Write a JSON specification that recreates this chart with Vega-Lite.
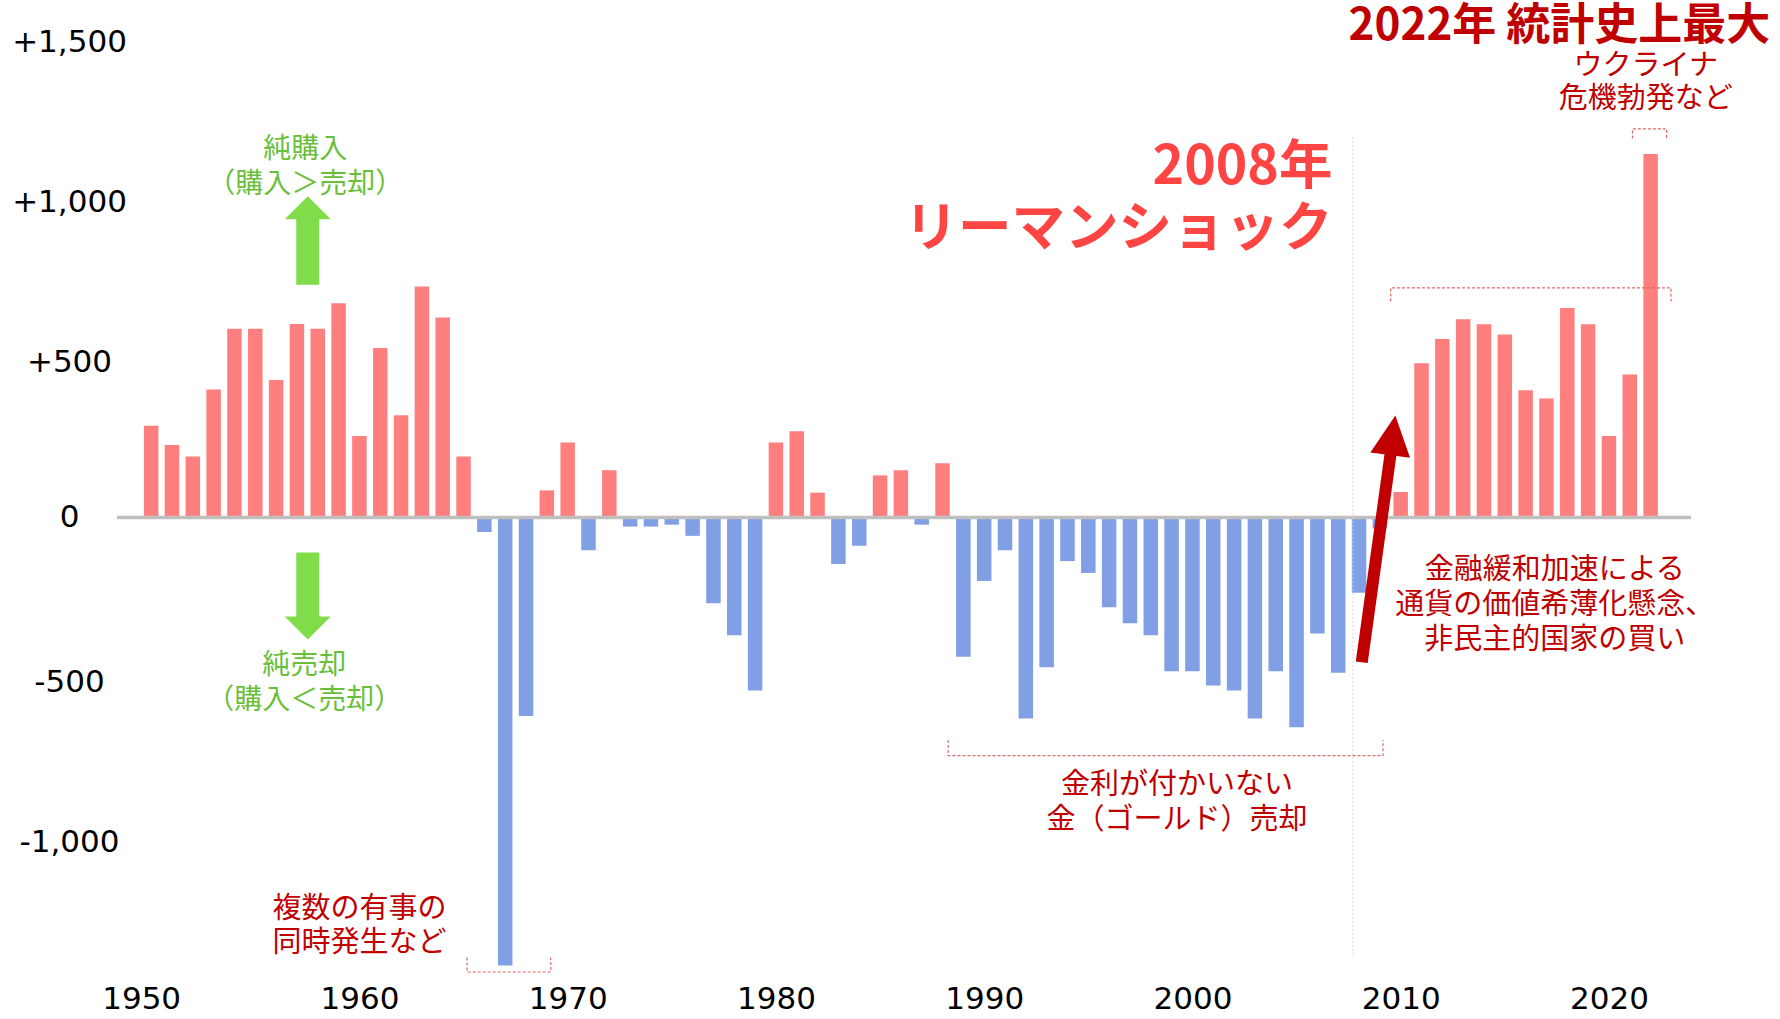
{
  "$schema": "https://vega.github.io/schema/vega-lite/v6.json",
  "autosize": "none",
  "width": 1574,
  "height": 955,
  "padding": {"left": 117, "top": 20, "right": 89, "bottom": 44},
  "background": "white",
  "config": {"view": {"stroke": null}},
  "datasets": {
    "gold": [
      {"year": 1950, "value": 287}, {"year": 1951, "value": 227}, {"year": 1952, "value": 191}, {"year": 1953, "value": 400},
      {"year": 1954, "value": 590}, {"year": 1955, "value": 590}, {"year": 1956, "value": 430}, {"year": 1957, "value": 605},
      {"year": 1958, "value": 590}, {"year": 1959, "value": 670}, {"year": 1960, "value": 255}, {"year": 1961, "value": 530},
      {"year": 1962, "value": 320}, {"year": 1963, "value": 722}, {"year": 1964, "value": 625}, {"year": 1965, "value": 191},
      {"year": 1966, "value": -45}, {"year": 1967, "value": -1400}, {"year": 1968, "value": -620}, {"year": 1969, "value": 85},
      {"year": 1970, "value": 235}, {"year": 1971, "value": -102}, {"year": 1972, "value": 148}, {"year": 1973, "value": -28},
      {"year": 1974, "value": -28}, {"year": 1975, "value": -22}, {"year": 1976, "value": -57}, {"year": 1977, "value": -268},
      {"year": 1978, "value": -368}, {"year": 1979, "value": -540}, {"year": 1980, "value": 235}, {"year": 1981, "value": 270},
      {"year": 1982, "value": 78}, {"year": 1983, "value": -145}, {"year": 1984, "value": -88}, {"year": 1985, "value": 132},
      {"year": 1986, "value": 148}, {"year": 1987, "value": -22}, {"year": 1988, "value": 170}, {"year": 1989, "value": -435},
      {"year": 1990, "value": -198}, {"year": 1991, "value": -102}, {"year": 1992, "value": -628}, {"year": 1993, "value": -468},
      {"year": 1994, "value": -136}, {"year": 1995, "value": -173}, {"year": 1996, "value": -280}, {"year": 1997, "value": -330},
      {"year": 1998, "value": -368}, {"year": 1999, "value": -480}, {"year": 2000, "value": -480}, {"year": 2001, "value": -525},
      {"year": 2002, "value": -540}, {"year": 2003, "value": -628}, {"year": 2004, "value": -480}, {"year": 2005, "value": -655},
      {"year": 2006, "value": -362}, {"year": 2007, "value": -485}, {"year": 2008, "value": -235}, {"year": 2009, "value": -34},
      {"year": 2010, "value": 80}, {"year": 2011, "value": 482}, {"year": 2012, "value": 558}, {"year": 2013, "value": 620},
      {"year": 2014, "value": 604}, {"year": 2015, "value": 572}, {"year": 2016, "value": 398}, {"year": 2017, "value": 372},
      {"year": 2018, "value": 655}, {"year": 2019, "value": 604}, {"year": 2020, "value": 255}, {"year": 2021, "value": 447},
      {"year": 2022, "value": 1136}
    ],
    "brackets": [
      {"b": "b1", "o": 1, "x": 1965.17, "y": -1375}, {"b": "b1", "o": 2, "x": 1965.17, "y": -1420},
      {"b": "b1", "o": 3, "x": 1969.19, "y": -1420}, {"b": "b1", "o": 4, "x": 1969.19, "y": -1375},
      {"b": "b2", "o": 1, "x": 1988.27, "y": -695}, {"b": "b2", "o": 2, "x": 1988.27, "y": -744},
      {"b": "b2", "o": 3, "x": 2009.15, "y": -744}, {"b": "b2", "o": 4, "x": 2009.15, "y": -695},
      {"b": "b3", "o": 1, "x": 2009.52, "y": 675}, {"b": "b3", "o": 2, "x": 2009.52, "y": 718},
      {"b": "b3", "o": 3, "x": 2022.98, "y": 718}, {"b": "b3", "o": 4, "x": 2022.98, "y": 675},
      {"b": "b4", "o": 1, "x": 2021.13, "y": 1185}, {"b": "b4", "o": 2, "x": 2021.13, "y": 1215},
      {"b": "b4", "o": 3, "x": 2022.77, "y": 1215}, {"b": "b4", "o": 4, "x": 2022.77, "y": 1185}
    ],
    "greenText": [
      {"x": 1957.4, "y": 1150, "t": "純購入"},
      {"x": 1957.4, "y": 1040, "t": "（購入＞売却）"},
      {"x": 1957.35, "y": -463, "t": "純売却"},
      {"x": 1957.35, "y": -573, "t": "（購入＜売却）"}
    ],
    "redText": [
      {"x": 1960.0, "y": -1224, "t": "複数の有事の"},
      {"x": 1960.0, "y": -1330, "t": "同時発生など"},
      {"x": 1999.26, "y": -836, "t": "金利が付かいない"},
      {"x": 1999.26, "y": -945, "t": "金（ゴールド）売却"},
      {"x": 2017.4, "y": -164, "t": "金融緩和加速による"},
      {"x": 2017.4, "y": -273, "t": "通貨の価値希薄化懸念、"},
      {"x": 2017.4, "y": -383, "t": "非民主的国家の買い"},
      {"x": 2021.77, "y": 1410, "t": "ウクライナ"},
      {"x": 2021.77, "y": 1307, "t": "危機勃発など"}
    ],
    "lehman": [
      {"x": 2006.72, "y": 1092, "t": "2008年"},
      {"x": 2006.72, "y": 898, "t": "リーマンショック"}
    ],
    "title": [
      {"x": 2027.75, "y": 1534, "t": "2022年 統計史上最大"}
    ]
  },
  "layer": [
    {
      "data": {"name": "gold"},
      "mark": {"type": "bar", "size": 14.5},
      "encoding": {
        "x": {
          "field": "year", "type": "quantitative",
          "scale": {"domain": [1948.6, 2023.7], "nice": false, "zero": false},
          "axis": {
            "values": [1950, 1960, 1970, 1980, 1990, 2000, 2010, 2020],
            "format": "d", "title": null, "domain": false, "ticks": false, "grid": false,
            "labelFont": "DejaVu Sans", "labelFontSize": 31, "labelColor": "#000000",
            "labelBaseline": "middle", "labelPadding": 24.5, "labelFlush": false, "labelOverlap": false,
            "labelOffset": {"condition": {"test": "datum.value == 1950", "value": -10}, "value": 0}
          }
        },
        "y": {
          "field": "value", "type": "quantitative",
          "scale": {"domain": [-1429.4, 1555], "nice": false, "zero": false},
          "axis": {
            "values": [-1000, -500, 0, 500, 1000, 1500],
            "title": null, "domain": false, "ticks": false, "tickSize": 0, "grid": false,
            "labelFont": "DejaVu Sans", "labelFontSize": 31, "labelColor": "#000000",
            "labelAlign": "center", "labelBaseline": "middle", "labelPadding": 48,
            "labelOffset": {"condition": {"test": "datum.value == 0", "value": 0}, "value": 5},
            "labelFlush": false, "labelOverlap": false,
            "labelExpr": "datum.value > 0 ? '+' + format(datum.value, ',') : (datum.value < 0 ? '-' + format(-datum.value, ',') : '0')"
          }
        },
        "color": {
          "condition": {"test": "datum.value >= 0", "value": "#ff7f7f"},
          "value": "#809fe4"
        }
      }
    },
    {
      "data": {"values": [{}]},
      "mark": {"type": "rule", "color": "#bfbfbf", "strokeWidth": 3.5},
      "encoding": {"y": {"datum": 0, "type": "quantitative"}}
    },
    {
      "data": {"values": [{}]},
      "mark": {"type": "rule", "color": "#d6d6d6", "strokeWidth": 1, "strokeDash": [2, 2]},
      "encoding": {
        "x": {"datum": 2007.71, "type": "quantitative"},
        "y": {"datum": 1190, "type": "quantitative"},
        "y2": {"datum": -1375}
      }
    },
    {
      "data": {"name": "brackets"},
      "mark": {"type": "line", "color": "#e06666", "strokeWidth": 1.2, "strokeDash": [3, 2]},
      "encoding": {
        "x": {"field": "x", "type": "quantitative"},
        "y": {"field": "y", "type": "quantitative"},
        "detail": {"field": "b"},
        "order": {"field": "o"}
      }
    },
    {
      "data": {"values": [{}]},
      "mark": {"type": "rule", "color": "#80dc48", "strokeWidth": 23, "strokeCap": "butt"},
      "encoding": {
        "x": {"datum": 1957.52, "type": "quantitative"},
        "y": {"datum": 728, "type": "quantitative"},
        "y2": {"datum": 936}
      }
    },
    {
      "data": {"values": [{}]},
      "mark": {"type": "point", "shape": "M-1,0.5L0,-0.5L1,0.5Z", "size": 2116, "filled": true, "color": "#80dc48", "opacity": 1, "strokeWidth": 0},
      "encoding": {
        "x": {"datum": 1957.52, "type": "quantitative"},
        "y": {"datum": 968, "type": "quantitative"}
      }
    },
    {
      "data": {"values": [{}]},
      "mark": {"type": "rule", "color": "#80dc48", "strokeWidth": 23, "strokeCap": "butt"},
      "encoding": {
        "x": {"datum": 1957.52, "type": "quantitative"},
        "y": {"datum": -109, "type": "quantitative"},
        "y2": {"datum": -312}
      }
    },
    {
      "data": {"values": [{}]},
      "mark": {"type": "point", "shape": "M-1,-0.5L0,0.5L1,-0.5Z", "size": 2116, "filled": true, "color": "#80dc48", "opacity": 1, "strokeWidth": 0},
      "encoding": {
        "x": {"datum": 1957.52, "type": "quantitative"},
        "y": {"datum": -345, "type": "quantitative"}
      }
    },
    {
      "data": {"values": [{}]},
      "mark": {"type": "rule", "color": "#c00000", "strokeWidth": 12, "strokeCap": "butt"},
      "encoding": {
        "x": {"datum": 2008.13, "type": "quantitative"},
        "y": {"datum": -452, "type": "quantitative"},
        "x2": {"datum": 2009.58},
        "y2": {"datum": 230}
      }
    },
    {
      "data": {"values": [{}]},
      "mark": {"type": "point", "shape": "M-1,1L0,-1L1,1Z", "size": 1600, "filled": true, "color": "#c00000", "opacity": 1, "strokeWidth": 0, "angle": 7.4},
      "encoding": {
        "x": {"datum": 2009.62, "type": "quantitative"},
        "y": {"datum": 257, "type": "quantitative"}
      }
    },
    {
      "data": {"name": "greenText"},
      "mark": {"type": "text", "font": "Noto Sans CJK JP", "fontSize": 28, "color": "#6abf3a", "align": "center", "baseline": "middle"},
      "encoding": {
        "x": {"field": "x", "type": "quantitative"},
        "y": {"field": "y", "type": "quantitative"},
        "text": {"field": "t"}
      }
    },
    {
      "data": {"name": "redText"},
      "mark": {"type": "text", "font": "Noto Sans CJK JP", "fontSize": 29, "color": "#c00000", "align": "center", "baseline": "middle"},
      "encoding": {
        "x": {"field": "x", "type": "quantitative"},
        "y": {"field": "y", "type": "quantitative"},
        "text": {"field": "t"}
      }
    },
    {
      "data": {"name": "lehman"},
      "mark": {"type": "text", "font": "Noto Sans CJK JP", "fontSize": 53.5, "fontWeight": "bold", "color": "#ff4444", "align": "right", "baseline": "middle"},
      "encoding": {
        "x": {"field": "x", "type": "quantitative"},
        "y": {"field": "y", "type": "quantitative"},
        "text": {"field": "t"}
      }
    },
    {
      "data": {"name": "title"},
      "mark": {"type": "text", "font": "Noto Sans CJK JP", "fontSize": 44, "fontWeight": "bold", "color": "#c00000", "align": "right", "baseline": "middle"},
      "encoding": {
        "x": {"field": "x", "type": "quantitative"},
        "y": {"field": "y", "type": "quantitative"},
        "text": {"field": "t"}
      }
    }
  ]
}
